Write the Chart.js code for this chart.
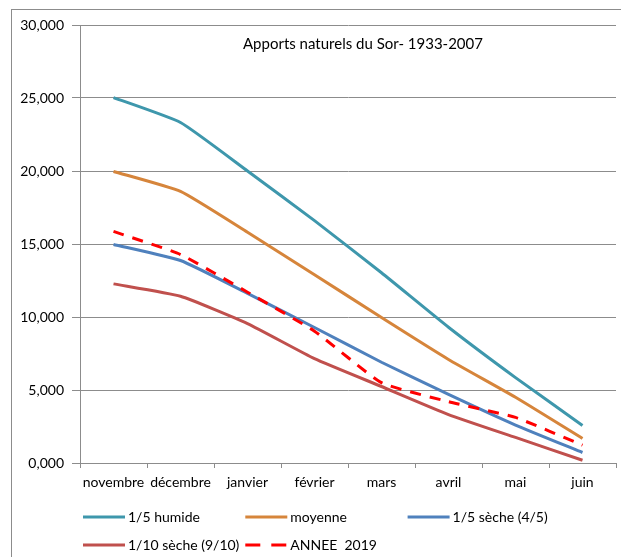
<!DOCTYPE html>
<html>
<head>
<meta charset="utf-8">
<script src="https://cdn.jsdelivr.net/npm/chart.js@4.4.1/dist/chart.umd.min.js"></script>
<style>
  html, body { margin: 0; padding: 0; background: #fff; overflow: hidden; }
  #frame { position: absolute; left: 11px; top: 9px; width: 660px; height: 620px; border: 1px solid #8c8c8c; }
  #myChart { position: absolute; left: 0; top: 0; }
</style>
</head>
<body>
<div id="frame"></div>
<canvas id="myChart" width="621" height="557"></canvas>
<script>
const months = ['novembre', 'décembre', 'janvier', 'février', 'mars', 'avril', 'mai', 'juin'];
const humide = [25.03, 23.32, 20.0, 16.6, 13.03, 9.3, 5.85, 2.57];
const moyenne = [19.97, 18.6, 15.8, 12.9, 9.96, 7.09, 4.5, 1.68];
const secheQuint = [14.97, 13.87, 11.62, 9.28, 6.9, 4.7, 2.6, 0.72];
const secheDecile = [12.27, 11.42, 9.55, 7.15, 5.24, 3.32, 1.75, 0.19];
const annee2019 = [15.86, 14.28, 11.7, 9.03, 5.5, 4.2, 3.12, 1.22];
const yTicks = ['0,000', '5,000', '10,000', '15,000', '20,000', '25,000', '30,000'];
const title = 'Apports naturels du Sor- 1933-2007';

const font = 'Lato, "Noto Sans", sans-serif';

// legend drawn in fixed columns, like the spreadsheet one
const legendPlugin = {
  id: 'gridLegend',
  afterDraw(chart) {
    const ctx = chart.ctx;
    ctx.save();
    ctx.font = '14px ' + font;
    ctx.textBaseline = 'middle';
    ctx.fillStyle = '#000';
    chart.data.datasets.forEach((d, i) => {
      const col = i % 3, row = Math.floor(i / 3);
      const x = 83 + col * 162.3;
      const y = 517 + row * 28;
      ctx.strokeStyle = d.borderColor;
      ctx.lineWidth = 3;
      ctx.setLineDash(d.borderDash ? [15, 11] : []);
      ctx.beginPath();
      ctx.moveTo(x, y);
      ctx.lineTo(x + 42, y);
      ctx.stroke();
      ctx.setLineDash([]);
      ctx.fillText(d.label, x + 45, y);
    });
    ctx.font = '15px ' + font;
    ctx.fillText(title, chart.chartArea.left + 163, 44);
    ctx.restore();
  }
};

const ctx = document.getElementById('myChart').getContext('2d');
const chart = new Chart(ctx, {
  type: 'line',
  data: {
    labels: months,
    datasets: [
      { label: '1/5 humide', data: humide, borderColor: '#3e97ac' },
      { label: 'moyenne', data: moyenne, borderColor: '#d6853b' },
      { label: '1/5 sèche (4/5)', data: secheQuint, borderColor: '#4f81bd' },
      { label: '1/10 sèche (9/10)', data: secheDecile, borderColor: '#c0504d' },
      { label: 'ANNEE  2019', data: annee2019, borderColor: '#ff0000', borderDash: [11, 9], order: -1 }
    ].map(d => Object.assign({ borderWidth: 3, pointRadius: 0, tension: 0.15, fill: false }, d))
  },
  plugins: [legendPlugin],
  options: {
    responsive: false,
    animation: false,
    layout: { padding: { left: 0, top: 25, right: 5, bottom: 0 } },
    plugins: {
      legend: { display: false },
      tooltip: { enabled: false }
    },
    scales: {
      x: {
        offset: true,
        afterFit: s => { s.height = 94; },
        grid: { offset: true, drawOnChartArea: false, drawTicks: true, tickLength: 5, color: '#8c8c8c' },
        border: { color: '#8c8c8c' },
        ticks: { color: '#000', font: { family: font, size: 14 }, padding: 6, maxRotation: 0, autoSkip: false }
      },
      y: {
        min: 0,
        max: 30,
        afterFit: s => { s.width = 80; },
        grid: { color: '#8c8c8c', tickLength: 8 },
        border: { color: '#8c8c8c' },
        ticks: {
          stepSize: 5,
          color: '#000',
          padding: 8,
          font: { family: font, size: 14 },
          callback: (v, i) => yTicks[i]
        }
      }
    }
  }
});
</script>
</body>
</html>
